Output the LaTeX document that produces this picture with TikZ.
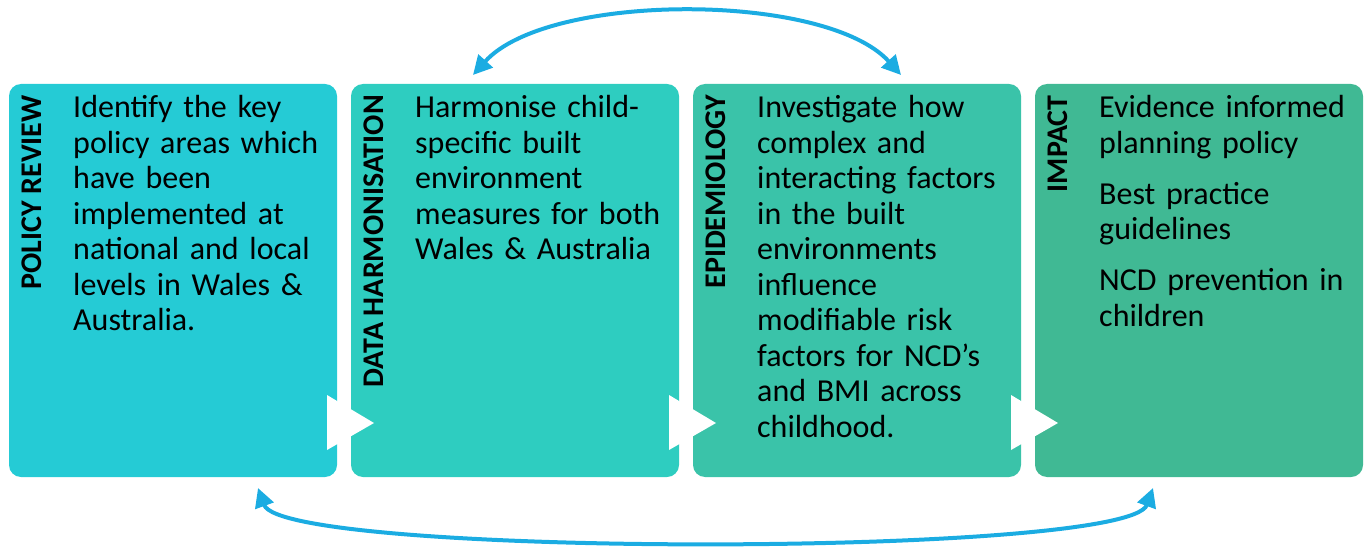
\documentclass[tikz,border=0pt]{standalone}
\usepackage{fontspec}
\setmainfont{Carlito}
\usetikzlibrary{arrows.meta}
\definecolor{cA}{RGB}{37,203,213}
\definecolor{cB}{RGB}{46,205,192}
\definecolor{cC}{RGB}{58,195,169}
\definecolor{cD}{RGB}{64,185,148}
\definecolor{linkblue}{RGB}{27,172,226}
\begin{document}
\begin{tikzpicture}[x=1pt,y=1pt,
  stage/.style={rounded corners=12pt, minimum width=328pt, minimum height=393pt, inner sep=0pt, draw=none},
  stagetitle/.style={rotate=90, anchor=east, inner sep=0pt, font=\fontsize{30}{36}\selectfont\bfseries},
  body/.style={anchor=base west, inner sep=0pt, text width=290pt, align=left, font=\fontsize{32}{35.5}\selectfont},
  link/.style={draw=linkblue, line width=4pt, {Triangle[length=19pt,width=19pt]}-{Triangle[length=19pt,width=19pt]}}]
\useasboundingbox (0,0) rectangle (1367,547);
% stages
\node[stage, fill=cA] (b1) at (173,266.5) {};
\node[stage, fill=cB] (b2) at (515,266.5) {};
\node[stage, fill=cC] (b3) at (857,266.5) {};
\node[stage, fill=cD] (b4) at (1199,266.5) {};
% flow triangles
\fill[white] (327,152) -- (374,124) -- (327,97) -- cycle;
\fill[white] (669,152) -- (716,124) -- (669,97) -- cycle;
\fill[white] (1011,152) -- (1058,124) -- (1011,97) -- cycle;
% titles
\node[stagetitle] (t1) at (31.5,452) {POLICY REVIEW};
\node[stagetitle] (t2) at (373.5,452) {DATA HARMONISATION};
\node[stagetitle] (t3) at (715.5,452) {EPIDEMIOLOGY};
\node[stagetitle] (t4) at (1057.5,452) {IMPACT};
% bodies
\node[body] (x1) at (73,429) {Identify the key\\ policy areas which\\ have been\\ implemented at\\ national and local\\ levels in Wales \&\\ Australia.};
\node[body] (x2) at (415,429) {Harmonise child-\\ specific built\\ environment\\ measures for both\\ Wales \& Australia};
\node[body] (x3) at (757,429) {Investigate how\\ complex and\\ interacting factors\\ in the built\\ environments\\ influence\\ modifiable risk\\ factors for NCD’s\\ and BMI across\\ childhood.};
\node[body] (x4) at (1099,429) {Evidence informed\\ planning policy\\[15.5pt] Best practice\\ guidelines\\[15.5pt] NCD prevention in\\ children};
% feedback arrows
\coordinate (ta) at (473,472);
\coordinate (tb) at (901,472);
\coordinate (ba) at (258,59);
\coordinate (bb) at (1153,59);
\draw[link] (ta) to[out=48,in=132,distance=112pt] (tb);
\draw[link] (ba) to[out=-70,in=-110,distance=74pt] (bb);
\end{tikzpicture}
\end{document}
